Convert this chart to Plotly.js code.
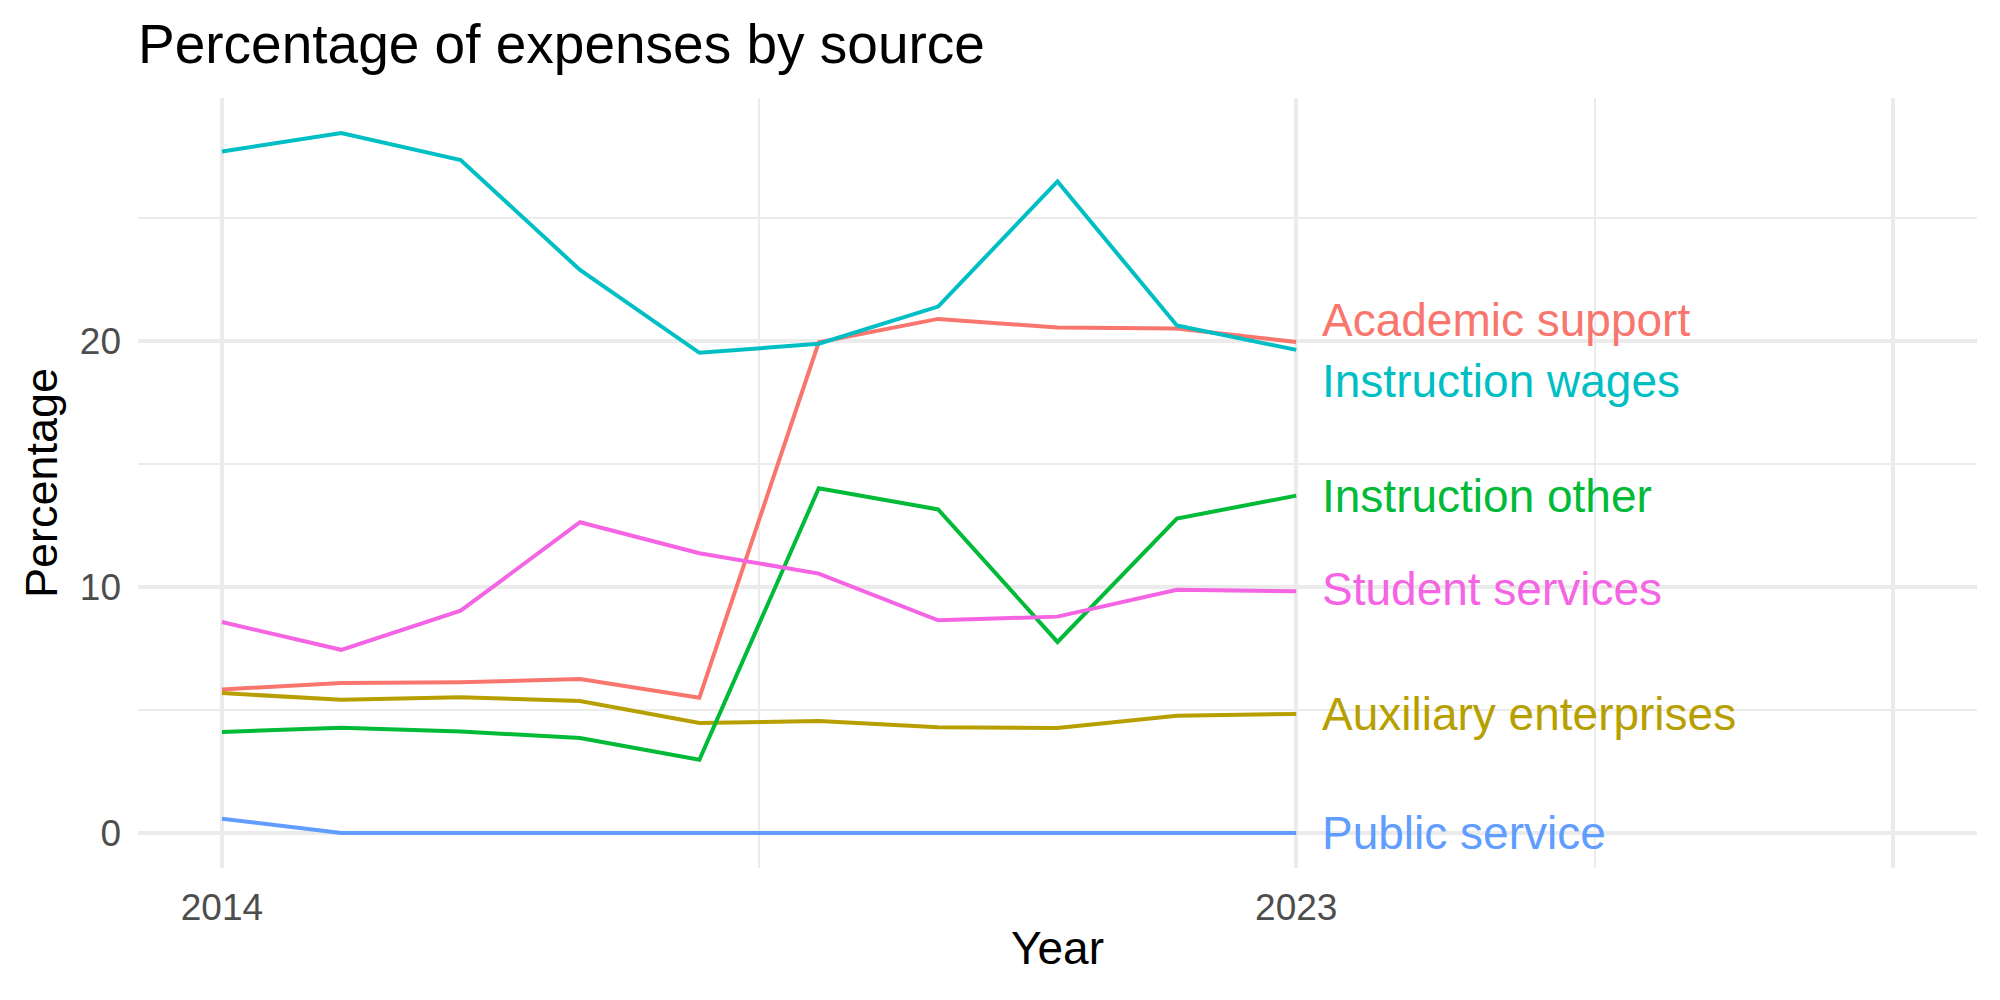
<!DOCTYPE html>
<html>
<head>
<meta charset="utf-8">
<script src="https://cdn.plot.ly/plotly-3.0.1.min.js"></script>
<style>
  html, body { margin: 0; padding: 0; background: #ffffff; }
  #chart { width: 2000px; height: 1000px; }
</style>
</head>
<body>
<div id="chart"></div>
<script>
// ---- data ----
const years = [2014, 2015, 2016, 2017, 2018, 2019, 2020, 2021, 2022, 2023];
const seriesNames = [
  "Academic support",
  "Auxiliary enterprises",
  "Instruction other",
  "Instruction wages",
  "Public service",
  "Student services"
];
const academicSupport     = [5.84, 6.10, 6.13, 6.26, 5.50, 19.96, 20.91, 20.56, 20.52, 19.97];
const auxiliaryEnterprises = [5.69, 5.42, 5.52, 5.37, 4.47, 4.55, 4.30, 4.27, 4.77, 4.84];
const instructionOther    = [4.11, 4.28, 4.13, 3.86, 2.98, 14.02, 13.16, 7.77, 12.79, 13.72];
const instructionWages    = [27.72, 28.47, 27.37, 22.90, 19.53, 19.90, 21.41, 26.50, 20.64, 19.65];
const publicService       = [0.58, 0, 0, 0, 0, 0, 0, 0, 0, 0];
const studentServices     = [8.58, 7.45, 9.04, 12.64, 11.38, 10.55, 8.65, 8.80, 9.89, 9.83];
const xTickVals  = [2014, 2023, 2028];
const xTickText  = ["2014", "2023", ""];
const yTickVals  = [0, 10, 20];
const yTickText  = ["0", "10", "20"];

// ---- styling / layout ----
const values = [academicSupport, auxiliaryEnterprises, instructionOther, instructionWages, publicService, studentServices];
const colors = ["#F8766D", "#B79F00", "#00BA38", "#00BFC4", "#619CFF", "#F564E3"];
// vertical nudges applied to the end labels (repel-style offsets)
const labelNudge = [0.91, 0.01, -0.03, -1.28, 0.0, 0.08];
const labelXOffset = 0.2;
const FONT = "Liberation Sans, Arial, Helvetica, sans-serif";

const traces = seriesNames.map((name, i) => ({
  type: "scatter",
  mode: "lines",
  x: years,
  y: values[i],
  name: name,
  line: { color: colors[i], width: 4 },
  hoverinfo: "x+y+name",
  showlegend: false
}));

const lastYear = years[years.length - 1];
const annotations = seriesNames.map((name, i) => ({
  x: lastYear + labelXOffset,
  y: values[i][values[i].length - 1] + labelNudge[i],
  xref: "x", yref: "y",
  text: name,
  showarrow: false,
  xanchor: "left",
  yanchor: "middle",
  font: { family: FONT, size: 46, color: colors[i] }
}));

const gridCol = "#EBEBEB";
const layout = {
  width: 2000,
  height: 1000,
  paper_bgcolor: "#ffffff",
  plot_bgcolor: "#ffffff",
  margin: { l: 138, r: 23, t: 98, b: 132, pad: 0 },
  font: { family: FONT, color: "#000000" },
  title: {
    text: "Percentage of expenses by source",
    font: { family: FONT, size: 55, color: "#000000" },
    x: 0, xref: "paper", xanchor: "left",
    y: 0.956, yref: "container", yanchor: "middle"
  },
  xaxis: {
    range: [2013.297, 2028.703],
    tickmode: "array",
    tickvals: xTickVals,
    ticktext: xTickText,
    showgrid: true,
    gridcolor: gridCol,
    gridwidth: 4,
    zeroline: false,
    showline: false,
    ticks: "",
    ticklabelstandoff: 14,
    tickfont: { family: FONT, size: 37, color: "#4D4D4D" },
    minor: { tickvals: [2018.5, 2025.5], showgrid: true, gridcolor: gridCol, gridwidth: 2, ticks: "" },
    title: { text: "Year", font: { family: FONT, size: 46, color: "#000000" }, standoff: 4 },
    automargin: false,
    fixedrange: true
  },
  yaxis: {
    range: [-1.424, 29.894],
    tickmode: "array",
    tickvals: yTickVals,
    ticktext: yTickText,
    showgrid: true,
    gridcolor: gridCol,
    gridwidth: 4,
    zeroline: false,
    showline: false,
    ticks: "",
    ticklabelstandoff: 16,
    tickfont: { family: FONT, size: 37, color: "#4D4D4D" },
    minor: { tickvals: [5, 15, 25], showgrid: true, gridcolor: gridCol, gridwidth: 2, ticks: "" },
    title: { text: "Percentage", font: { family: FONT, size: 45, color: "#000000" }, standoff: 8 },
    automargin: false,
    fixedrange: true
  },
  annotations: annotations,
  showlegend: false,
  hovermode: "closest"
};

Plotly.newPlot("chart", traces, layout, { displayModeBar: false, staticPlot: false });
</script>
</body>
</html>
